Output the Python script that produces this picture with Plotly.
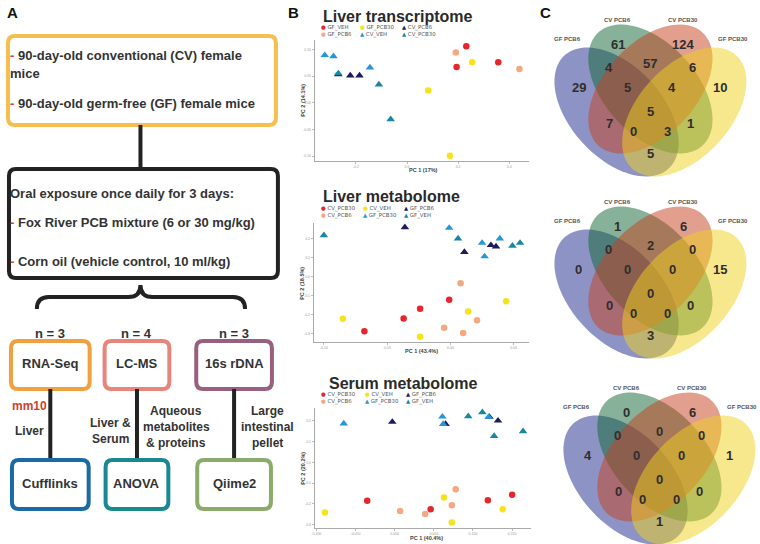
import numpy as np
import plotly.graph_objects as go

W, H = 760, 544

# ---------------- Panel B data (PCA scores) ----------------
# Liver transcriptome
lt_GF_VEH_x = [0.232, 0.194, 0.357];   lt_GF_VEH_y = [0.106, 0.067, 0.076]
lt_GF_PCB6_x = [0.191, 0.440];         lt_GF_PCB6_y = [0.094, 0.063]
lt_GF_PCB30_x = [0.255, 0.083, 0.168]; lt_GF_PCB30_y = [0.076, 0.023, -0.099]
lt_CV_PCB6_x = [-0.269, -0.222, -0.186]; lt_CV_PCB6_y = [0.053, 0.051, 0.051]
lt_CV_VEH_x = [-0.322, -0.288, -0.145]; lt_CV_VEH_y = [0.089, 0.087, 0.066]
lt_CV_PCB30_x = [-0.269, -0.110, -0.064]; lt_CV_PCB30_y = [0.055, 0.034, -0.031]

# Liver metabolome
lm_CV_PCB30_x = [-0.001, -0.024, -0.037, -0.068]; lm_CV_PCB30_y = [-0.122, -0.169, -0.220, -0.288]
lm_CV_PCB6_x = [0.008, 0.021, -0.005, 0.010];     lm_CV_PCB6_y = [-0.035, -0.229, -0.269, -0.297]
lm_CV_VEH_x = [-0.085, 0.014, 0.044, -0.024];     lm_CV_VEH_y = [-0.222, -0.183, -0.129, -0.316]
lm_GF_PCB6_x = [-0.036, 0.011, 0.032, 0.036];     lm_GF_PCB6_y = [0.259, 0.129, 0.165, 0.158]
lm_GF_PCB30_x = [-0.001, 0.025, 0.027, 0.039];    lm_GF_PCB30_y = [0.256, 0.177, 0.106, 0.200]
lm_GF_VEH_x = [-0.100, 0.006, 0.049, 0.055];      lm_GF_VEH_y = [0.217, 0.200, 0.162, 0.177]

# Serum metabolome
sm_CV_PCB30_x = [-0.035, 0.046, 0.119, 0.150];    sm_CV_PCB30_y = [-0.185, -0.226, -0.183, -0.156]
sm_CV_PCB6_x = [0.007, 0.039, 0.073, 0.078];      sm_CV_PCB6_y = [-0.234, -0.249, -0.207, -0.130]
sm_CV_VEH_x = [-0.089, 0.063, 0.138, 0.073];      sm_CV_VEH_y = [-0.241, -0.169, -0.226, -0.290]
sm_GF_PCB6_x = [-0.003, 0.065, 0.121, 0.132];     sm_GF_PCB6_y = [0.194, 0.184, 0.218, 0.200]
sm_GF_PCB30_x = [-0.065, 0.061, 0.062, 0.120];    sm_GF_PCB30_y = [0.186, 0.219, 0.184, 0.218]
sm_GF_VEH_x = [0.094, 0.112, 0.127, 0.164];       sm_GF_VEH_y = [0.221, 0.240, 0.126, 0.149]

# ---------------- Panel C data (Venn counts) ----------------
venn_sets = ["GF PCB6", "CV PCB6", "CV PCB30", "GF PCB30"]
# region order: G only, R only, B only, Y only, BG, GR, RY, BGR, GRY, BGRY, BR, GY, BRY, BGY, BY
venn_transcriptome = [61, 124, 29, 10, 4, 57, 6, 5, 4, 5, 7, 1, 0, 3, 5]
venn_liver_met = [1, 6, 0, 15, 0, 2, 0, 0, 0, 0, 0, 0, 0, 0, 3]
venn_serum_met = [0, 6, 4, 1, 0, 0, 0, 0, 0, 0, 0, 0, 0, 0, 1]

RED, SALMON, YELLOW = "#e8252a", "#f5a880", "#f7e21c"
NAVY, LBLUE, TEAL = "#1c1b5e", "#2497d8", "#1a86a6"

fig = go.Figure()

def px_dom_x(a, b):
    return [a / W, b / W]

def px_dom_y(top, bottom):
    return [1 - bottom / H, 1 - top / H]

panels = [
    dict(dx=(313, 528), dy=(40, 161), xr=[-0.361, 0.477], yr=[-0.109, 0.1175],
         xt=[-0.2, 0.0, 0.2, 0.4], xtt=["-0.2", "0.0", "0.2", "0.4"],
         yt=[0.10, 0.05, 0.0, -0.05, -0.10], ytt=["0.10", "0.05", "0.00", "-0.05", "-0.10"]),
    dict(dx=(312, 528), dy=(223, 342), xr=[-0.108, 0.062], yr=[-0.344, 0.282],
         xt=[-0.10, -0.05, 0.0, 0.05], xtt=["-0.10", "-0.05", "0.00", "0.05"],
         yt=[0.2, 0.1, 0.0, -0.1, -0.2, -0.3], ytt=["0.2", "0.1", "0.0", "-0.1", "-0.2", "-0.3"]),
    dict(dx=(313, 530), dy=(408, 528), xr=[-0.102, 0.174], yr=[-0.316, 0.261],
         xt=[-0.10, -0.05, 0.0, 0.05, 0.10, 0.15], xtt=["-0.100", "-0.050", "0.000", "0.050", "0.100", "0.150"],
         yt=[0.2, 0.1, 0.0, -0.1, -0.2, -0.3], ytt=["0.2", "0.1", "0.0", "-0.1", "-0.2", "-0.3"]),
]

series = [
    [(lt_GF_VEH_x, lt_GF_VEH_y, RED, "circle"), (lt_GF_PCB6_x, lt_GF_PCB6_y, SALMON, "circle"),
     (lt_GF_PCB30_x, lt_GF_PCB30_y, YELLOW, "circle"), (lt_CV_VEH_x, lt_CV_VEH_y, LBLUE, "triangle-up"),
     (lt_CV_PCB6_x, lt_CV_PCB6_y, NAVY, "triangle-up"), (lt_CV_PCB30_x, lt_CV_PCB30_y, TEAL, "triangle-up")],
    [(lm_CV_PCB30_x, lm_CV_PCB30_y, RED, "circle"), (lm_CV_PCB6_x, lm_CV_PCB6_y, SALMON, "circle"),
     (lm_CV_VEH_x, lm_CV_VEH_y, YELLOW, "circle"), (lm_GF_PCB6_x, lm_GF_PCB6_y, NAVY, "triangle-up"),
     (lm_GF_PCB30_x, lm_GF_PCB30_y, LBLUE, "triangle-up"), (lm_GF_VEH_x, lm_GF_VEH_y, TEAL, "triangle-up")],
    [(sm_CV_PCB30_x, sm_CV_PCB30_y, RED, "circle"), (sm_CV_PCB6_x, sm_CV_PCB6_y, SALMON, "circle"),
     (sm_CV_VEH_x, sm_CV_VEH_y, YELLOW, "circle"), (sm_GF_PCB6_x, sm_GF_PCB6_y, NAVY, "triangle-up"),
     (sm_GF_PCB30_x, sm_GF_PCB30_y, LBLUE, "triangle-up"), (sm_GF_VEH_x, sm_GF_VEH_y, TEAL, "triangle-up")],
]

for i, (p, ser) in enumerate(zip(panels, series)):
    n = "" if i == 0 else str(i + 1)
    for xs, ys, col, sym in ser:
        fig.add_trace(go.Scatter(x=xs, y=ys, mode="markers", xaxis="x" + n, yaxis="y" + n,
                                 marker=dict(color=col, symbol=sym, size=6.5 if sym == "circle" else 7.5,
                                             line=dict(width=0)), showlegend=False))
    ax = dict(showgrid=False, zeroline=False, showline=True, linecolor="#aaaaaa", linewidth=1,
              ticks="outside", ticklen=2, tickcolor="#bbbbbb", tickfont=dict(size=3.5, color="#999999"))
    fig.layout["xaxis" + n] = dict(ax, domain=px_dom_x(*p["dx"]), range=p["xr"], anchor="y" + n,
                                   tickvals=p["xt"], ticktext=p["xtt"])
    fig.layout["yaxis" + n] = dict(ax, domain=px_dom_y(*p["dy"]), range=p["yr"], anchor="x" + n,
                                   tickvals=p["yt"], ticktext=p["ytt"])

# overlay pixel axis (for layout of the flowchart and Venn shapes)
fig.layout["xaxis4"] = dict(domain=[0, 1], range=[0, W], visible=False, fixedrange=True)
fig.layout["yaxis4"] = dict(domain=[0, 1], range=[H, 0], visible=False, fixedrange=True, anchor="x4")
fig.add_trace(go.Scatter(x=[], y=[], xaxis="x4", yaxis="y4", showlegend=False))

shapes = []
annots = []
BF = "Liberation Sans"

def T(x, y, text, size=12, color="#333333", xa="center", ya="middle", family=BF, angle=0):
    annots.append(dict(x=x, y=y, xref="x4", yref="y4", text=text, showarrow=False, xanchor=xa, yanchor=ya,
                       font=dict(size=size, color=color, family=family), textangle=angle,
                       borderpad=0))

def rrect(x0, y0, x1, y1, r, color, w=4):
    p = (f"M {x0+r},{y0} L {x1-r},{y0} Q {x1},{y0} {x1},{y0+r} L {x1},{y1-r} Q {x1},{y1} {x1-r},{y1} "
         f"L {x0+r},{y1} Q {x0},{y1} {x0},{y1-r} L {x0},{y0+r} Q {x0},{y0} {x0+r},{y0} Z")
    shapes.append(dict(type="path", path=p, xref="x4", yref="y4", line=dict(color=color, width=w)))

def line(x0, y0, x1, y1, color="#222222", w=4):
    shapes.append(dict(type="line", x0=x0, y0=y0, x1=x1, y1=y1, xref="x4", yref="y4",
                       line=dict(color=color, width=w)))

# ---------------- Panel A flowchart ----------------
DASH = "<span style='color:#d8402c'>-</span> "
FS = 13
rrect(5, 36, 274, 125, 7, "#f6be4e")
T(6, 55, "<b>" + DASH + "90-day-old conventional (CV) female</b>", FS, xa="left")
T(6, 73, "<b>mice</b>", FS, xa="left")
T(6, 103, "<b>" + DASH + "90-day-old germ-free (GF) female mice</b>", FS, xa="left")
line(138, 125, 138, 168)
rrect(6, 169, 276, 278, 7, "#222222")
T(6, 193, "<b>Oral exposure once daily for 3 days:</b>", FS, xa="left")
T(6, 222, "<b>" + DASH + "Fox River PCB mixture (6 or 30 mg/kg)</b>", FS, xa="left")
T(6, 261, "<b>" + DASH + "Corn oil (vehicle control, 10 ml/kg)</b>", FS, xa="left")
shapes.append(dict(type="path", xref="x4", yref="y4", line=dict(color="#222222", width=4),
                   path="M 34,309 Q 34,297 46,297 L 126,297 Q 138,297 138,285 Q 138,297 150,297 "
                        "L 231,297 Q 243,297 243,309"))

methods = [("n = 3", "RNA-Seq", "#f0a03e", "Cufflinks", "#1a6aa5", 8, 87),
           ("n = 4", "LC-MS", "#e8857a", "ANOVA", "#1a8892", 102, 167),
           ("n = 3", "16s rDNA", "#98607f", "Qiime2", "#8aab6a", 194, 270)]
for nlab, top, tc, bot, bc, x0, x1 in methods:
    cx = (x0 + x1) / 2
    T(cx, 333, "<b>" + nlab + "</b>", 13)
    rrect(x0, 341, x1, 389, 7, tc)
    T(cx, 363, "<b>" + top + "</b>", 13)
    line(cx, 389, cx, 460)
    rrect(x0 + 1, 460, x1 - 1, 509, 7, bc)
    T(cx, 483, "<b>" + bot + "</b>", 13)

T(45, 406, "<b>mm10</b>", 12, color="#d0402c", xa="right")
T(27, 431, "<b>Liver</b>", 12)
T(108, 423, "<b>Liver &</b>", 12)
T(108, 439, "<b>Serum</b>", 12)
for yy, tx in [(411, "Aqueous"), (427, "metabolites"), (443, "& proteins")]:
    T(174, yy, "<b>" + tx + "</b>", 12)
for yy, tx in [(411, "Large"), (427, "intestinal"), (443, "pellet")]:
    T(266, yy, "<b>" + tx + "</b>", 12)

# panel letters
T(10, 12, "<b>A</b>", 15, color="#111111")
T(292, 12, "<b>B</b>", 15, color="#111111")
T(545, 12, "<b>C</b>", 15, color="#111111")

# ---------------- Panel B titles and legends ----------------
titles = [("Liver transcriptome", 396, 16), ("Liver metabolome", 390, 196), ("Serum metabolome", 402, 383)]
for t, x, y in titles:
    T(x, y, "<b>" + t + "</b>", 16, color="#2a2a2a")

leg_specs = [
    (27, 34, [318, 357, 400],
     [("●", RED, "GF_VEH"), ("●", YELLOW, "GF_PCB30"), ("▲", NAVY, "CV_PCB6")],
     [("●", SALMON, "GF_PCB6"), ("▲", LBLUE, "CV_VEH"), ("▲", TEAL, "CV_PCB30")]),
    (208, 215, [318, 360, 402],
     [("●", RED, "CV_PCB30"), ("●", YELLOW, "CV_VEH"), ("▲", NAVY, "GF_PCB6")],
     [("●", SALMON, "CV_PCB6"), ("▲", LBLUE, "GF_PCB30"), ("▲", TEAL, "GF_VEH")]),
    (394, 401, [318, 362, 404],
     [("●", RED, "CV_PCB30"), ("●", YELLOW, "CV_VEH"), ("▲", NAVY, "GF_PCB6")],
     [("●", SALMON, "CV_PCB6"), ("▲", LBLUE, "GF_PCB30"), ("▲", TEAL, "GF_VEH")]),
]
for y1, y2, gx, row1, row2 in leg_specs:
    for yy, row in [(y1, row1), (y2, row2)]:
        for (g, c, lab), gxx in zip(row, gx):
            T(gxx, yy, f"<span style='color:{c}'>{g}</span> {lab}", 5.4, color="#555555",
              xa="left", family="DejaVu Sans")

axis_titles = [("PC 1 (17%)", 422, 170, "PC 2 (14.1%)", 301, 100),
               ("PC 1 (43.4%)", 420, 351, "PC 2 (18.5%)", 300, 283),
               ("PC 1 (40.4%)", 425, 538, "PC 2 (20.2%)", 301, 468)]
for xl, xx, xy, yl, yx, yy in axis_titles:
    T(xx, xy, "<b>" + xl + "</b>", 5.5, color="#444444")
    T(yx, yy, "<b>" + yl + "</b>", 5.5, color="#444444", angle=-90)

# ---------------- Panel C Venn diagrams ----------------
def ellipse_path(cx, cy, a, b, th, n=90):
    t = np.linspace(0, 2 * np.pi, n)
    c, s = np.cos(np.radians(th)), np.sin(np.radians(th))
    xs = cx + a * np.cos(t) * c - b * np.sin(t) * s
    ys = cy + a * np.cos(t) * s + b * np.sin(t) * c
    return "M " + " L ".join(f"{x:.2f},{y:.2f}" for x, y in zip(xs, ys)) + " Z"

venn_cols = ["#1b2a8c", "#0f6633", "#c8401e", "#f0d21e"]
ell_centers = [(-34, 23, 47), (0, 0, 47), (0, 0, -47), (34, 23, -47)]
region_pos = [(-33, -45), (33, -45), (-72, -2), (70, -2), (-42, -22), (0, -26), (42, -22),
              (-23, -2), (22, -2), (0, 22), (-41, 34), (40, 34), (-17, 42), (17, 42), (0, 64)]
label_pos = [(-83, -50), (-33, -69), (33, -69), (83, -50)]

for (ox, oy), counts in zip([(650, 89), (650, 271), (659, 457)],
                            [venn_transcriptome, venn_liver_met, venn_serum_met]):
    for (dx, dy, th), col in zip(ell_centers, venn_cols):
        shapes.append(dict(type="path", xref="x4", yref="y4", path=ellipse_path(ox + dx, oy + dy, 77, 46, th),
                           fillcolor=col, opacity=0.5, line=dict(width=0), layer="below"))
    for (dx, dy), v in zip(region_pos, counts):
        T(ox + dx, oy + dy, f"<b>{v}</b>", 13, color="#2e2e2e")
    for (dx, dy), s in zip(label_pos, venn_sets):
        T(ox + dx, oy + dy, "<b>" + s + "</b>", 6, color="#555555")

fig.update_layout(width=W, height=H, margin=dict(l=0, r=0, t=0, b=0), paper_bgcolor="white",
                  plot_bgcolor="rgba(0,0,0,0)", shapes=shapes, annotations=annots, showlegend=False,
                  font=dict(family=BF), hovermode=False)
fig.write_html("out.html", config={"displayModeBar": False, "staticPlot": True},
               post_script="document.body.style.margin='0';")
